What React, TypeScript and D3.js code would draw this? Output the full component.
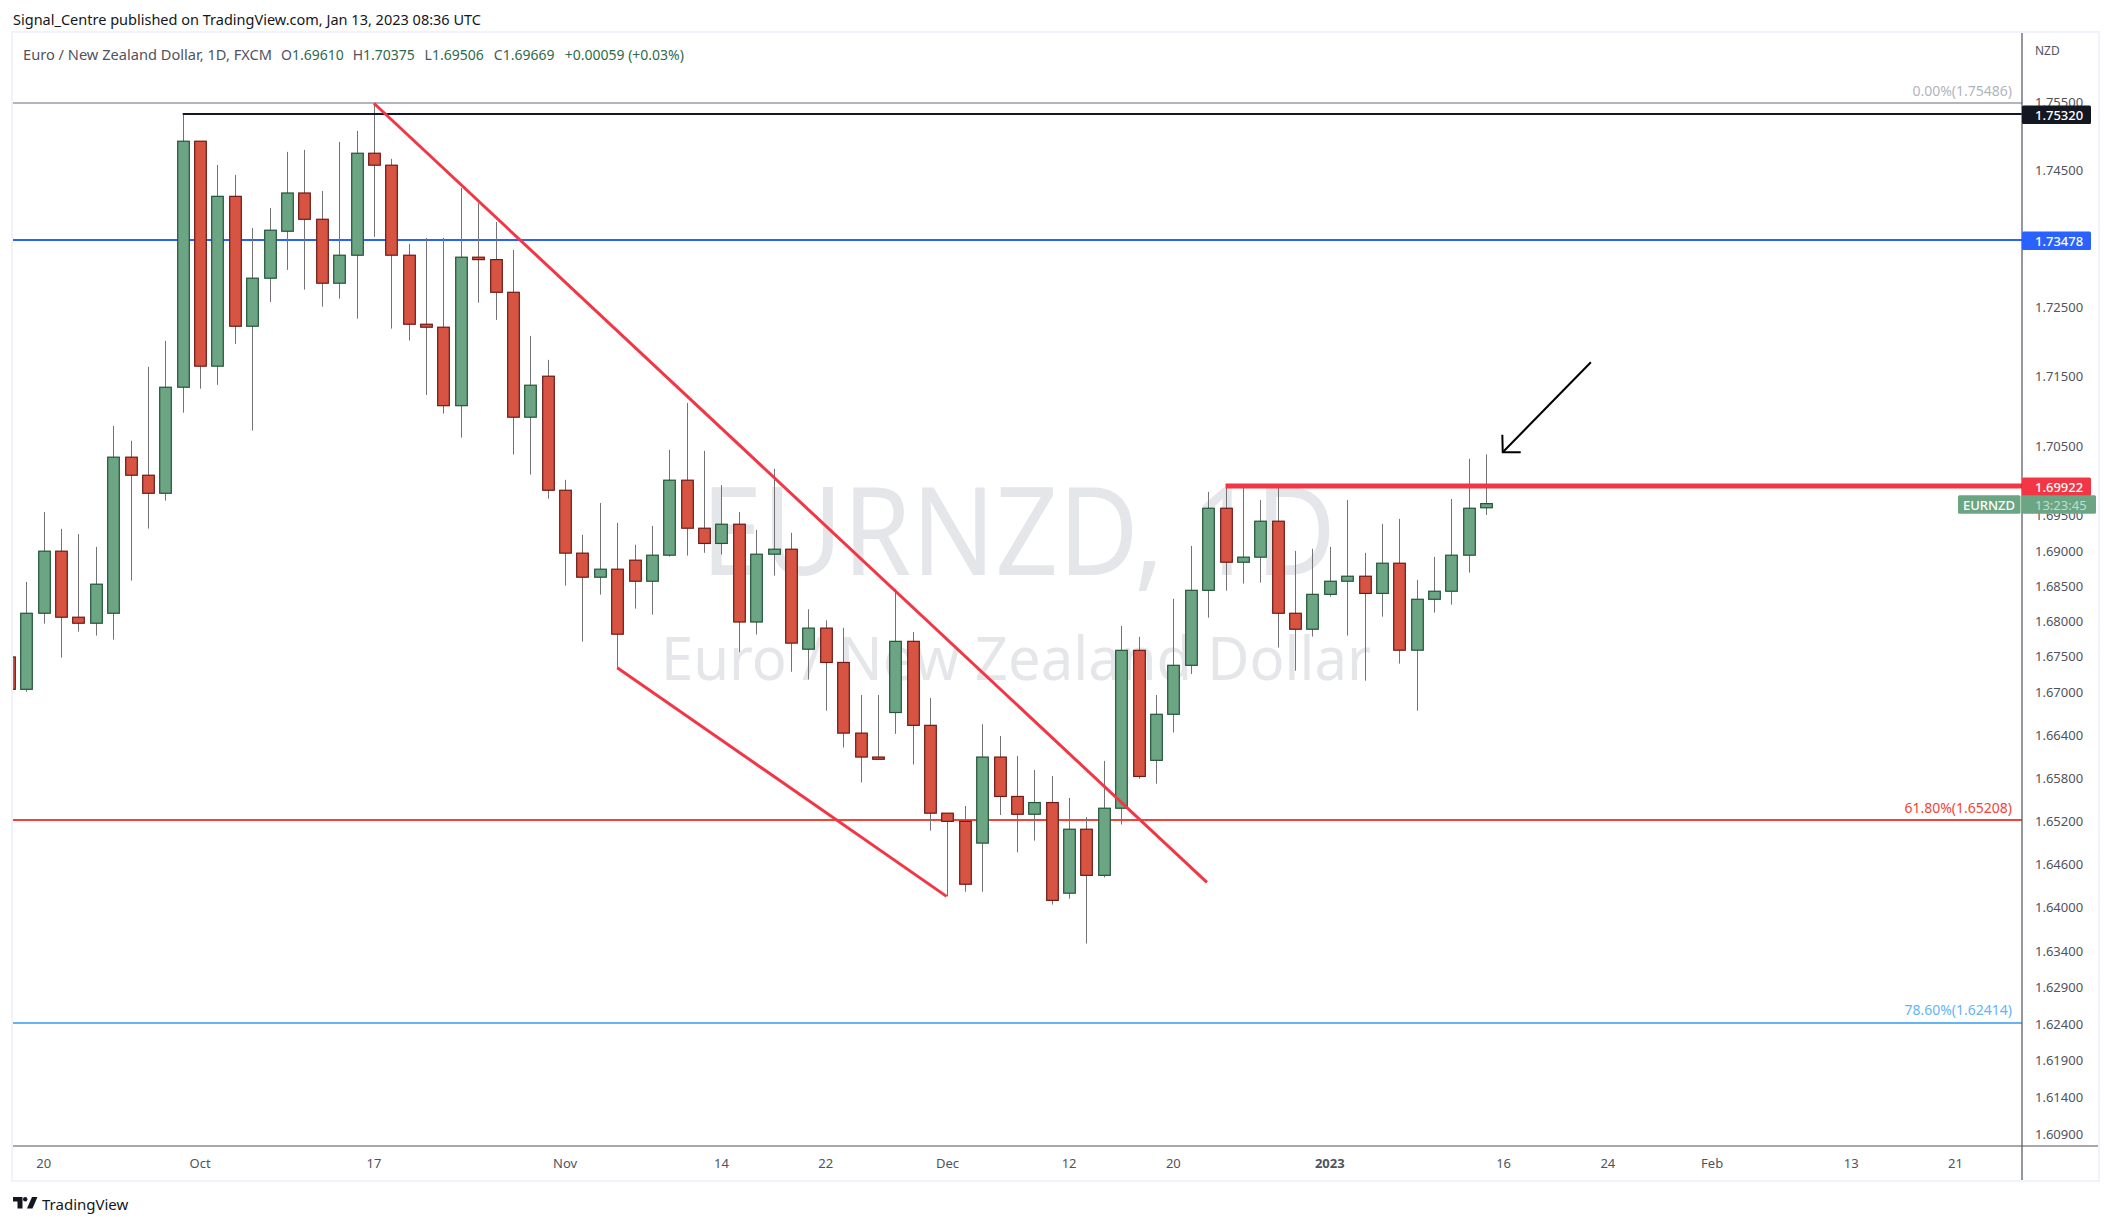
import { useRef, useEffect } from 'react';
import * as d3 from 'd3';

// index -1 is the candle cut off by the left edge of the pane
const firstIndex = -1;

const opens = [
  1.67493, 1.67037, 1.6811, 1.68991, 1.68054, 1.67969, 1.6811, 1.70334, 1.70075, 1.69817,
  1.7134, 1.74926, 1.71644, 1.74116, 1.72222, 1.7292, 1.73605, 1.74165, 1.7378, 1.72847,
  1.73255, 1.74749, 1.74573, 1.73255, 1.72251, 1.72208, 1.71074, 1.73226, 1.73191, 1.72715,
  1.70908, 1.71499, 1.6986, 1.68963, 1.68621, 1.68735, 1.68863, 1.68564, 1.68934, 1.70004,
  1.69318, 1.69101, 1.69375, 1.67986, 1.68948, 1.69019, 1.67602, 1.679, 1.67415, 1.66422,
  1.66087, 1.66711, 1.67713, 1.66531, 1.65304, 1.6519, 1.64888, 1.66087, 1.65537, 1.65289,
  1.65452, 1.64194, 1.65081, 1.64441, 1.65373, 1.67586, 1.66041, 1.66686, 1.67375, 1.68435,
  1.69603, 1.68834, 1.68906, 1.69418, 1.6811, 1.67884, 1.68378, 1.68564, 1.68635, 1.68391,
  1.6882, 1.67588, 1.68308, 1.68422, 1.68934, 1.6961,
];
const highs = [
  1.67493, 1.68554, 1.6955, 1.69308, 1.69233, 1.69052, 1.70783, 1.70568, 1.71634, 1.7201,
  1.75313, 1.74926, 1.74577, 1.7443, 1.73653, 1.73945, 1.74769, 1.74798, 1.74194, 1.74916,
  1.75078, 1.75486, 1.74666, 1.7342, 1.73508, 1.73508, 1.74239, 1.74014, 1.73741, 1.73333,
  1.72082, 1.71735, 1.70009, 1.69223, 1.69678, 1.69394, 1.69081, 1.69351, 1.70439, 1.71113,
  1.70424, 1.69934, 1.69549, 1.69294, 1.70167, 1.69253, 1.68167, 1.6801, 1.67904, 1.66957,
  1.66957, 1.68454, 1.67845, 1.66916, 1.65304, 1.65404, 1.66546, 1.66382, 1.66103, 1.65907,
  1.65823, 1.65516, 1.6525, 1.66033, 1.67931, 1.67776, 1.66957, 1.68314, 1.69066, 1.69836,
  1.69893, 1.69922, 1.69721, 1.69922, 1.68995, 1.69024, 1.69052, 1.69721, 1.68967, 1.6938,
  1.69451, 1.68583, 1.6891, 1.69735, 1.7031, 1.70375,
];
const lows = [
  1.67037, 1.67003, 1.67963, 1.67483, 1.6785, 1.67794, 1.67737, 1.68573, 1.69313, 1.69711,
  1.70974, 1.71319, 1.71373, 1.71966, 1.70715, 1.72574, 1.73041, 1.72754, 1.72506, 1.72622,
  1.72332, 1.73522, 1.72188, 1.72014, 1.71228, 1.70959, 1.70615, 1.72564, 1.72314, 1.70371,
  1.70084, 1.6974, 1.68501, 1.67709, 1.68373, 1.67342, 1.68175, 1.6809, 1.68914, 1.68928,
  1.68968, 1.68944, 1.67557, 1.67809, 1.68644, 1.67284, 1.67174, 1.66736, 1.66221, 1.65732,
  1.66056, 1.66412, 1.65982, 1.65061, 1.6415, 1.64214, 1.64214, 1.65279, 1.64759, 1.64923,
  1.64037, 1.64119, 1.635, 1.64412, 1.65146, 1.65785, 1.65715, 1.66431, 1.67254, 1.68048,
  1.6843, 1.6853, 1.68544, 1.67625, 1.673, 1.6778, 1.68345, 1.67794, 1.67159, 1.68062,
  1.67399, 1.66736, 1.68119, 1.68232, 1.68686, 1.69506,
];
const closes = [
  1.67037, 1.6811, 1.68991, 1.68054, 1.67969, 1.68522, 1.70334, 1.70075, 1.69817, 1.7134,
  1.74926, 1.71644, 1.74116, 1.72222, 1.7292, 1.7362, 1.74165, 1.7378, 1.72847, 1.73255,
  1.74749, 1.74573, 1.73255, 1.72251, 1.72208, 1.71074, 1.73226, 1.73191, 1.72715, 1.70908,
  1.71369, 1.6986, 1.68963, 1.68621, 1.68735, 1.67814, 1.68564, 1.68934, 1.70004, 1.69318,
  1.69101, 1.69375, 1.67986, 1.68948, 1.69019, 1.67688, 1.679, 1.67415, 1.66422, 1.66087,
  1.66056, 1.67713, 1.66531, 1.65304, 1.6519, 1.64318, 1.66087, 1.65537, 1.65289, 1.65452,
  1.64095, 1.65081, 1.64441, 1.65373, 1.67586, 1.65816, 1.66686, 1.67375, 1.68435, 1.69603,
  1.68834, 1.68906, 1.69418, 1.6811, 1.67884, 1.68378, 1.68564, 1.68635, 1.68391, 1.6882,
  1.67588, 1.68308, 1.68422, 1.68934, 1.69603, 1.69669,
];

const priceTicks = [
  1.755, 1.745, 1.725, 1.715, 1.705, 1.695, 1.69, 1.685, 1.68, 1.675, 1.67,
  1.664, 1.658, 1.652, 1.646, 1.64, 1.634, 1.629, 1.624, 1.619, 1.614, 1.609,
];
const timeTickIndex = [1, 10, 20, 31, 40, 46, 53, 60, 66, 75, 85, 91, 97, 105, 111];
const timeTickLabels = ['20', 'Oct', '17', 'Nov', '14', '22', 'Dec', '12', '20', '2023', '16', '24', 'Feb', '13', '21'];

const resistanceHigh = 1.7532;
const supportBlue = 1.73478;
const resistanceNow = 1.69922;
const fibLevels = [
  { label: '0.00%(1.75486)', price: 1.75486, color: '#b2b5be' },
  { label: '61.80%(1.65208)', price: 1.65208, color: '#f44336' },
  { label: '78.60%(1.62414)', price: 1.62414, color: '#64b5f6' },
];
// wedge lines and the arrow, as [bar index, price]
const upperTrend = [[20, 1.75486], [67.93, 1.64343]];
const lowerTrend = [[34, 1.67342], [52.95, 1.6415]];
const arrowTail = [90.02, 1.717];
const arrowTip = [84.95, 1.70405];

const FONT = '"Noto Sans", Roboto, sans-serif';
const GREEN = '#6ba583';
const RED = '#d75442';

export default function App() {
  const svgRef = useRef<SVGSVGElement>(null);

  useEffect(() => {
    if (!svgRef.current) return;
    const svg = d3.select(svgRef.current);
    svg.selectAll('*').remove();

    const width = 2112;
    const height = 1225;
    const pane = { left: 13, right: 2022, top: 33, bottom: 1146, frameRight: 2098, frameBottom: 1180 };

    svg.attr('viewBox', `0 0 ${width} ${height}`).style('font-family', FONT);

    const x = d3.scaleLinear().domain([0, 84]).range([26.3, 26.3 + 84 * 17.38]);
    const y = d3.scaleLog().domain([1.755, 1.609]).range([102.3, 1133.9]);
    // wicks and levels land on whole pixels like the original canvas
    const snapX = (i: number) => Math.round(x(i)) + 0.5;
    const snapY = (p: number) => Math.round(y(p));

    svg.append('rect').attr('width', width).attr('height', height).attr('fill', '#fff');

    svg.append('defs').append('clipPath').attr('id', 'pane')
      .append('rect')
      .attr('x', pane.left).attr('y', pane.top)
      .attr('width', pane.right - pane.left).attr('height', pane.bottom - pane.top);

    // Frame
    svg.append('rect')
      .attr('x', pane.left - 1).attr('y', pane.top - 1)
      .attr('width', pane.frameRight - pane.left + 2).attr('height', pane.frameBottom - pane.top + 2)
      .attr('fill', 'none').attr('stroke', '#f0f3fa').attr('stroke-width', 2);

    // Watermark
    svg.append('text')
      .attr('x', 701).attr('y', 575)
      .attr('textLength', 635).attr('lengthAdjust', 'spacingAndGlyphs')
      .attr('fill', '#e5e6e9').style('font-size', '123px')
      .text('EURNZD, 1D');
    svg.append('text')
      .attr('x', 661).attr('y', 680)
      .attr('textLength', 710).attr('lengthAdjust', 'spacingAndGlyphs')
      .attr('fill', '#e5e6e9').style('font-size', '60px')
      .text('Euro / New Zealand Dollar');

    const plot = svg.append('g').attr('clip-path', 'url(#pane)');

    // Blue level and fib lines sit under the candles
    plot.append('line')
      .attr('x1', pane.left).attr('x2', pane.right)
      .attr('y1', snapY(supportBlue)).attr('y2', snapY(supportBlue))
      .attr('stroke', '#2962ff').attr('stroke-width', 2);

    fibLevels.forEach((level) => {
      plot.append('line')
        .attr('x1', pane.left).attr('x2', pane.right)
        .attr('y1', snapY(level.price)).attr('y2', snapY(level.price))
        .attr('stroke', level.color).attr('stroke-width', 2);
      svg.append('text')
        .attr('x', 2012).attr('y', y(level.price) - 13).attr('text-anchor', 'end')
        .attr('dominant-baseline', 'central')
        .attr('fill', level.color).style('font-size', '14px')
        .text(level.label);
    });

    // Candles
    const bars = opens.map((open, i) => ({
      index: firstIndex + i, open, high: highs[i], low: lows[i], close: closes[i],
    }));
    const bodyW = 11.6;

    plot.append('g').selectAll('line').data(bars).join('line')
      .attr('x1', (d) => snapX(d.index)).attr('x2', (d) => snapX(d.index))
      .attr('y1', (d) => y(d.high)).attr('y2', (d) => y(d.low))
      .attr('stroke', '#737375').attr('stroke-width', 1);

    plot.append('g').selectAll('rect').data(bars).join('rect')
      .attr('x', (d) => snapX(d.index) - bodyW / 2)
      .attr('width', bodyW)
      .attr('y', (d) => y(Math.max(d.open, d.close)))
      .attr('height', (d) => Math.abs(y(d.open) - y(d.close)))
      .attr('fill', (d) => (d.close >= d.open ? GREEN : RED))
      .attr('stroke', (d) => (d.close >= d.open ? '#225437' : '#6b1a14'))
      .attr('stroke-width', 1.2);

    // Horizontal levels from their anchor bars
    plot.append('line')
      .attr('x1', x(9)).attr('x2', pane.right)
      .attr('y1', snapY(resistanceHigh)).attr('y2', snapY(resistanceHigh))
      .attr('stroke', '#131722').attr('stroke-width', 2);
    plot.append('line')
      .attr('x1', x(69)).attr('x2', pane.right)
      .attr('y1', snapY(resistanceNow)).attr('y2', snapY(resistanceNow))
      .attr('stroke', '#f23645').attr('stroke-width', 5);

    // Wedge
    const trend = d3.line<number[]>().x((d) => x(d[0])).y((d) => y(d[1]));
    [upperTrend, lowerTrend].forEach((points) => {
      plot.append('path')
        .attr('d', trend(points))
        .attr('fill', 'none').attr('stroke', '#f23645').attr('stroke-width', 3);
    });

    // Arrow
    const tipX = x(arrowTip[0]);
    const tipY = y(arrowTip[1]);
    plot.append('path')
      .attr('d', trend([arrowTail, arrowTip]))
      .attr('fill', 'none').attr('stroke', '#000').attr('stroke-width', 2);
    plot.append('path')
      .attr('d', `M${tipX - 0.4},${tipY - 17.5}L${tipX},${tipY}L${tipX + 18},${tipY}`)
      .attr('fill', 'none').attr('stroke', '#000').attr('stroke-width', 2);

    // Axis lines
    svg.append('line')
      .attr('x1', pane.right).attr('x2', pane.right)
      .attr('y1', pane.top).attr('y2', pane.frameBottom)
      .attr('stroke', '#50535e').attr('stroke-width', 1.2);
    svg.append('line')
      .attr('x1', pane.left).attr('x2', pane.frameRight)
      .attr('y1', pane.bottom).attr('y2', pane.bottom)
      .attr('stroke', '#50535e').attr('stroke-width', 1.2);

    // Price axis
    svg.append('text')
      .attr('x', 2035).attr('y', 50).attr('dominant-baseline', 'central')
      .attr('fill', '#50535e').style('font-size', '12px')
      .text('NZD');

    svg.append('g').selectAll('text').data(priceTicks).join('text')
      .attr('x', 2035).attr('y', (d) => y(d))
      .attr('dominant-baseline', 'central')
      .attr('fill', '#50535e').style('font-size', '13px')
      .text((d) => d.toFixed(5));

    // Time axis
    svg.append('g').selectAll('text').data(timeTickIndex).join('text')
      .attr('x', (d) => x(d)).attr('y', 1163)
      .attr('text-anchor', 'middle').attr('dominant-baseline', 'central')
      .attr('fill', '#50535e').style('font-size', '13px')
      .style('font-weight', (_, i) => (timeTickLabels[i] === '2023' ? 700 : 400))
      .text((_, i) => timeTickLabels[i]);

    // Price tags on the axis
    const priceTag = (price: number, fill: string) => {
      const mid = snapY(price) + 0.7;
      svg.append('rect')
        .attr('x', pane.right).attr('y', mid - 9.2)
        .attr('width', 69).attr('height', 18.4).attr('rx', 1.5)
        .attr('fill', fill);
      svg.append('text')
        .attr('x', 2035).attr('y', mid)
        .attr('dominant-baseline', 'central')
        .attr('fill', '#fff').style('font-size', '13px').style('font-weight', 500)
        .text(price.toFixed(5));
    };
    priceTag(resistanceHigh, '#131722');
    priceTag(supportBlue, '#2962ff');
    priceTag(resistanceNow, '#f23645');

    // Symbol and countdown tag
    const lastY = 504.5;
    svg.append('rect')
      .attr('x', 1958).attr('y', lastY - 9.2).attr('width', 62.5).attr('height', 18.4).attr('rx', 1.5)
      .attr('fill', GREEN);
    svg.append('text')
      .attr('x', 1989).attr('y', lastY).attr('text-anchor', 'middle').attr('dominant-baseline', 'central')
      .attr('fill', '#fff').style('font-size', '13px').style('font-weight', 500)
      .text('EURNZD');
    svg.append('rect')
      .attr('x', 2022).attr('y', lastY - 9.2).attr('width', 74).attr('height', 18.4).attr('rx', 1.5)
      .attr('fill', GREEN);
    svg.append('text')
      .attr('x', 2035).attr('y', lastY).attr('dominant-baseline', 'central')
      .attr('fill', '#c4dccf').style('font-size', '13px')
      .text('13:23:45');

    // Header
    svg.append('text')
      .attr('x', 13).attr('y', 19).attr('dominant-baseline', 'central')
      .attr('textLength', 468).attr('lengthAdjust', 'spacingAndGlyphs')
      .attr('fill', '#131722').style('font-size', '14px')
      .text('Signal_Centre published on TradingView.com, Jan 13, 2023 08:36 UTC');

    // Legend
    svg.append('text')
      .attr('x', 23).attr('y', 54).attr('dominant-baseline', 'central')
      .attr('textLength', 249).attr('lengthAdjust', 'spacingAndGlyphs')
      .attr('fill', '#50535e').style('font-size', '14px')
      .text('Euro / New Zealand Dollar, 1D, FXCM');
    const legendItems = [
      { x: 281, key: 'O', value: '1.69610' },
      { x: 352.7, key: 'H', value: '1.70375' },
      { x: 424.6, key: 'L', value: '1.69506' },
      { x: 493.8, key: 'C', value: '1.69669' },
      { x: 564.7, key: '', value: '+0.00059 (+0.03%)' },
    ];
    legendItems.forEach((item) => {
      const t = svg.append('text')
        .attr('x', item.x).attr('y', 54).attr('dominant-baseline', 'central')
        .style('font-size', '14px');
      t.append('tspan').attr('fill', '#50535e').text(item.key);
      t.append('tspan').attr('fill', '#2f6b4a').text(item.value);
    });

    // Footer logo
    const logo = svg.append('g').attr('transform', 'translate(13,1197)').attr('fill', '#131722');
    logo.append('path').attr('d', 'M0 0H9.5V11.5H4.5V4.5H0Z');
    logo.append('circle').attr('cx', 12.2).attr('cy', 2.2).attr('r', 2.2);
    logo.append('path').attr('d', 'M14 11.5L19 0H24.5L19.5 11.5Z');
    svg.append('text')
      .attr('x', 42).attr('y', 1204).attr('dominant-baseline', 'central')
      .attr('fill', '#131722').style('font-size', '15px')
      .text('TradingView');
  }, []);

  return (
    <svg
      ref={svgRef}
      width={2112}
      height={1225}
      style={{ position: 'absolute', left: 0, top: 0, display: 'block' }}
    />
  );
}
